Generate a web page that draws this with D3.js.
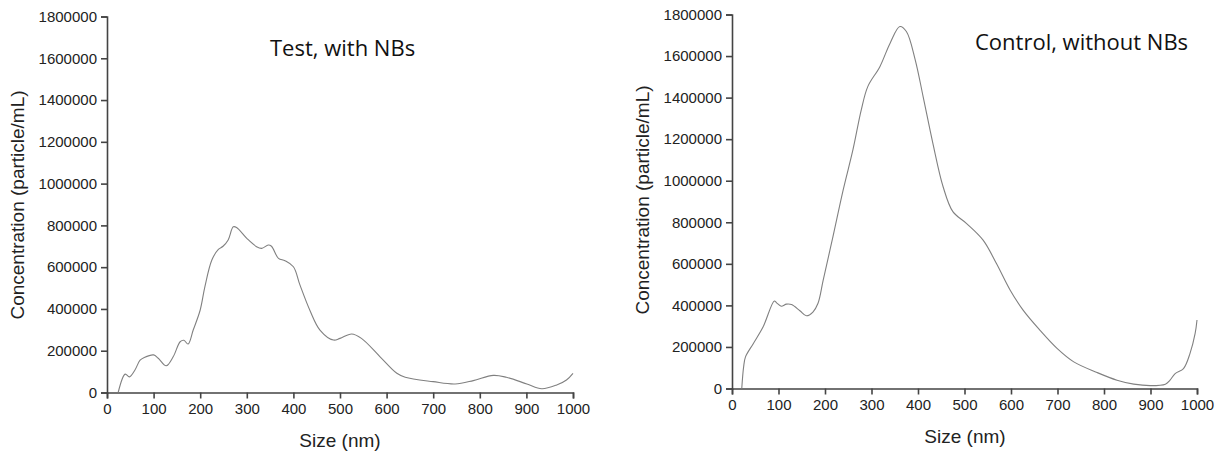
<!DOCTYPE html>
<html><head><meta charset="utf-8">
<script src="https://cdn.jsdelivr.net/npm/d3@7"></script>
<style>body{margin:0;background:#fff}svg{display:block}</style>
</head><body><svg id="c" width="1225" height="455"></svg>
<script>
// Data (size in nm, concentration in particle/mL)
const testSize = [24,39,48,60,71,80,100,110,127,142,157,165,174,185,200,210,225,239,249,260,271,278,300,321,332,346,353,368,382,400,414,436,457,486,500,525,546,586,622,640,700,747,786,829,857,901,933,965,986,1000];
const testConc = [0,88000,75000,108000,155000,168000,180000,164000,128000,171000,243000,250000,232000,299000,395000,506000,634000,685000,700000,730000,793000,790000,738000,698000,690000,706000,700000,642000,631000,602000,515000,390000,299000,251000,259000,280000,259000,171000,92000,73000,52000,41000,57000,82000,73000,41000,18000,36000,60000,92000];
const ctrlSize = [21,25,29,46,67,91,96,106,117,128,146,160,174,185,196,217,239,260,278,292,318,340,361,375,394,411,432,454,475,504,540,569,598,626,662,699,735,785,828,864,900,932,942,953,971,985,996,1000];
const ctrlConc = [0,104000,152000,217000,297000,421000,412000,396000,406000,404000,374000,350000,368000,410000,520000,730000,955000,1148000,1341000,1453000,1549000,1662000,1742000,1718000,1582000,1405000,1180000,971000,851000,795000,714000,600000,474000,377000,281000,193000,128000,77000,40000,21000,14000,21000,40000,72000,96000,169000,265000,330000];
const xTicks = [0,100,200,300,400,500,600,700,800,900,1000];
const yTicks = [0,200000,400000,600000,800000,1000000,1200000,1400000,1600000,1800000];
const titles = ["Test, with NBs","Control, without NBs"];
const xTitle = "Size (nm)";
const yTitle = "Concentration (particle/mL)";

const svg = d3.select("#c");
const panels = [
  {sizes:testSize, conc:testConc, title:titles[0], x0:107, x1:573, y0:392.5, y1:16.5, tx:270, ty:56, xlx:340, xly:447, ylx:24, yly:205},
  {sizes:ctrlSize, conc:ctrlConc, title:titles[1], x0:732, x1:1197, y0:388.5, y1:14.5, tx:975, ty:50, xlx:965, xly:443, ylx:649, yly:200}
];
panels.forEach(p=>{
  const x = d3.scaleLinear().domain([0,1000]).range([p.x0,p.x1]);
  const y = d3.scaleLinear().domain([0,1800000]).range([p.y0,p.y1]);
  const gx = svg.append("g").attr("transform",`translate(0,${p.y0})`)
    .call(d3.axisBottom(x).tickValues(xTicks).tickSize(6).tickPadding(5).tickFormat(d3.format("d")));
  const gy = svg.append("g").attr("transform",`translate(${p.x0},0)`)
    .call(d3.axisLeft(y).tickValues(yTicks).tickSize(6).tickPadding(4).tickFormat(d3.format("d")));
  [gx,gy].forEach(g=>{
    g.selectAll("path,line").attr("stroke","#444").attr("stroke-width",1.6);
    g.selectAll("text").attr("fill","#222").style("font-family","'Liberation Sans',Arial,sans-serif").style("font-size","15px");
  });
  const pts = p.sizes.map((s,i)=>[s,p.conc[i]]);
  svg.append("path").datum(pts)
    .attr("fill","none").attr("stroke","#808080").attr("stroke-width",1.1)
    .attr("d", d3.line().x(d=>x(d[0])).y(d=>y(d[1])).curve(d3.curveCatmullRom.alpha(0.5)));
  svg.append("text").attr("x",p.xlx).attr("y",p.xly).attr("text-anchor","middle")
    .style("font-family","'Liberation Sans',Arial,sans-serif").style("font-size","19px").attr("fill","#222").text(xTitle);
  svg.append("text").attr("transform",`translate(${p.ylx},${p.yly}) rotate(-90)`).attr("text-anchor","middle")
    .style("font-family","'Liberation Sans',Arial,sans-serif").style("font-size","19px").attr("fill","#222").text(yTitle);
  svg.append("text").attr("x",p.tx).attr("y",p.ty)
    .style("font-family","'Open Sans','Noto Sans',sans-serif").style("font-size","22px").attr("fill","#111").text(p.title);
});
</script></body></html>
